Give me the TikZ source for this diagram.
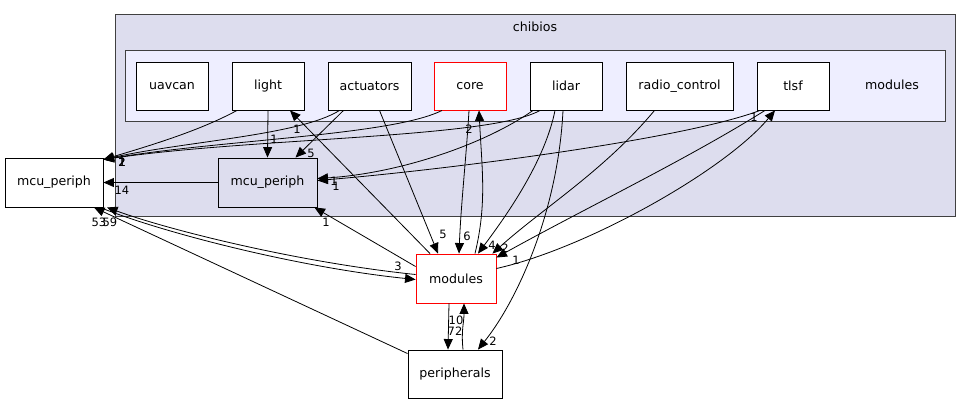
\documentclass[tikz,border=0pt]{standalone}
\usepackage{fontspec}
\setmainfont{DejaVu Sans}
\usetikzlibrary{arrows.meta}
\definecolor{clusterbg}{RGB}{221,221,238}
\definecolor{modbg}{RGB}{238,238,255}
\definecolor{clusterline}{RGB}{64,64,64}
\begin{document}
\begin{tikzpicture}[x=1pt, y=-1pt,
  cluster/.style={draw=clusterline, line width=1pt},
  dir/.style={draw=black, line width=0.9pt, fill=white, rectangle,
              minimum height=48pt, inner sep=0pt,
              font=\fontsize{12.6}{14}\selectfont},
  hot/.style={dir, draw=red},
  dep/.style={-{Triangle[length=10.5pt,width=9pt]}, line width=0.8pt},
  lbl/.style={font=\fontsize{11.5}{12}\selectfont, inner sep=0pt},
]
\useasboundingbox (0,0) rectangle (971,404);
% Clusters
\draw[cluster, fill=clusterbg] (115,15) rectangle (955,216);
\node[font=\fontsize{12.6}{14}\selectfont] (chibiosname) at (535,27) {chibios};
\draw[cluster, fill=modbg] (125,51) rectangle (945,121);
\node[font=\fontsize{12.6}{14}\selectfont] (modulesname) at (892,85) {modules};
% Directories inside chibios/modules
\node[dir, minimum width=72pt] (uavcan) at (172,86) {uavcan};
\node[dir, minimum width=72pt] (light) at (268,86) {light};
\node[dir, minimum width=83pt] (actuators) at (369.5,86) {actuators};
\node[hot, minimum width=72pt] (core) at (470,86) {core};
\node[dir, minimum width=72pt] (lidar) at (566,86) {lidar};
\node[dir, minimum width=107pt] (radiocontrol) at (679.5,86) {radio\_control};
\node[dir, minimum width=72pt] (tlsf) at (793,86) {tlsf};
% Other directories
\node[dir, fill=clusterbg, minimum width=99pt, minimum height=49pt] (mcuin) at (267.5,182.5) {mcu\_periph};
\node[dir, minimum width=98pt, minimum height=49pt] (mcuout) at (54,182.5) {mcu\_periph};
\node[hot, minimum width=80pt, minimum height=49pt] (modules) at (456,278.5) {modules};
\node[dir, minimum width=94pt] (peripherals) at (455,374) {peripherals};
% Dependencies into the outer mcu_periph
\draw[dep] ([xshift=-31pt]light.south) .. controls +(-37,20) and +(50,-15) .. ([yshift=-2pt]mcuout.north east)
  node[lbl] at (122,162) {2};
\draw[dep] ([xshift=-30pt]actuators.south) .. controls +(-40,25) and +(80,-18) .. ([yshift=-2pt]mcuout.north east)
  node[lbl] at (122,162) {1};
\draw[dep] ([xshift=-28pt]core.south) .. controls +(-50,25) and +(120,-20) .. ([yshift=-2pt]mcuout.north east)
  node[lbl] at (122,162) {1};
\draw[dep] ([xshift=-26pt]lidar.south) .. controls +(-50,28) and +(150,-22) .. ([yshift=-2pt]mcuout.north east)
  node[lbl] at (122,162) {2};
\draw[dep] (mcuin.west) -- (mcuout.east) node[lbl] at (122,190) {14};
\draw[dep] ([yshift=4pt]modules.west) .. controls +(-116,-12) and +(63,23) .. ([xshift=53pt]mcuout.south)
  node[lbl] at (110,222) {59};
\draw[dep] ([yshift=-4pt]peripherals.north west) -- ([xshift=40pt]mcuout.south)
  node[lbl] at (99,222) {53};
% Dependencies into the inner mcu_periph
\draw[dep] (light.south) -- (mcuin.north) node[lbl] at (274,139) {1};
\draw[dep] ([xshift=-26pt]actuators.south) -- ([xshift=28pt]mcuin.north) node[lbl] at (311,153) {5};
\draw[dep] ([xshift=-33pt]lidar.south) .. controls +(-50,35) and +(80,-5) .. ([yshift=4pt]mcuin.east)
  node[lbl] at (334,181) {1};
\draw[dep] ([xshift=-33pt]tlsf.south) .. controls +(-80,30) and +(120,-10) .. ([yshift=2pt]mcuin.east)
  node[lbl] at (336,186) {1};
\draw[dep] ([yshift=12pt]modules.west) -- ([xshift=-3pt]mcuin.south east) node[lbl] at (326,222) {1};
% Dependencies into modules
\draw[dep] ([xshift=10pt]actuators.south) -- ([xshift=-18pt]modules.north) node[lbl] at (443,234) {5};
\draw[dep] ([xshift=-1pt]core.south) .. controls +(-3,50) and +(2,-50) .. ([xshift=3pt]modules.north)
  node[lbl] at (467,236) {6};
\draw[dep] ([xshift=-11pt]lidar.south) .. controls +(-10,50) and +(30,-40) .. ([xshift=22pt]modules.north)
  node[lbl] at (492,245) {4};
\draw[dep] ([xshift=-25pt]radiocontrol.south) .. controls +(-50,60) and +(50,-45) .. ([xshift=-4pt]modules.north east)
  node[lbl] at (505,248) {2};
\draw[dep] ([xshift=-28pt]tlsf.south) .. controls +(-80,50) and +(90,-50) .. ([yshift=-4pt]modules.north east)
  node[lbl] at (516,260) {1};
\draw[dep] ([xshift=46pt]mcuout.south) .. controls +(65,26) and +(-116,-12) .. ([yshift=-1pt]modules.west)
  node[lbl] at (398,266) {3};
\draw[dep] ([xshift=8pt]peripherals.north) .. controls +(-2,-20) and +(0,20) .. ([xshift=8pt]modules.south)
  node[lbl] at (456,320) {10};
% Dependencies out of modules
\draw[dep] ([xshift=19pt]modules.north) .. controls +(12,-50) and +(3,60) .. ([xshift=9pt]core.south)
  node[lbl] at (469,129) {2};
\draw[dep] ([xshift=-26pt]modules.north) -- ([xshift=22pt]light.south) node[lbl] at (297,129) {1};
\draw[dep] ([yshift=10pt]modules.east) .. controls +(90,-20) and +(-50,60) .. ([xshift=-18pt]tlsf.south)
  node[lbl] at (754,117) {1};
\draw[dep] ([xshift=-7pt]modules.south) -- ([xshift=-7pt]peripherals.north) node[lbl] at (455,331) {72};
% Dependency into peripherals
\draw[dep] ([xshift=-3pt]lidar.south) .. controls +(-5,100) and +(40,-50) .. ([xshift=23pt]peripherals.north)
  node[lbl] at (493,341) {2};
\end{tikzpicture}
\end{document}
